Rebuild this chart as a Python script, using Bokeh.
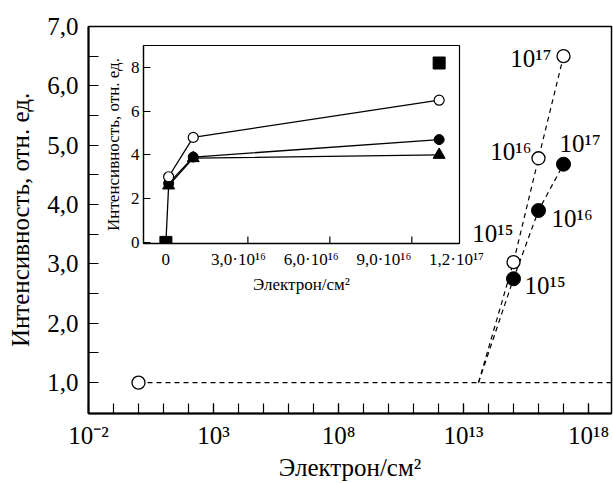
from math import pi
from bokeh.plotting import figure
from bokeh.models import FixedTicker, LinearAxis, Range1d, LinearScale, ColumnDataSource
from bokeh.embed import file_html
from bokeh.resources import INLINE
from bokeh.core.properties import value

FONT = "Liberation Serif"

# ---------------- main panel data ----------------
dose_open = [1e0, 1e15, 1e16, 1e17]
int_open = [1.0, 3.03, 4.78, 6.5]
dose_filled = [1e15, 1e16, 1e17]
int_filled = [2.75, 3.9, 4.68]
onset_dose = 10 ** 13.6
base_level = 1.0

ann_dose = [1e15, 1e16, 1e17, 1e15, 1e16, 1e17]
ann_int = [3.03, 4.78, 6.5, 2.75, 3.9, 4.68]
ann_text = ["10¹⁵", "10¹⁶", "10¹⁷", "10¹⁵", "10¹⁶", "10¹⁷"]

x_ticks = [1e-2, 1e3, 1e8, 1e13, 1e18]
x_tick_labels = ["10⁻²", "10³", "10⁸", "10¹³", "10¹⁸"]
x_minor = [10.0 ** k for k in range(-1, 19)]
y_ticks = [1, 2, 3, 4, 5, 6, 7]
y_tick_labels = ["1,0", "2,0", "3,0", "4,0", "5,0", "6,0", "7,0"]
y_minor = [1.5, 2.5, 3.5, 4.5, 5.5, 6.5]

# ---------------- inset data ----------------
ins_dose = [0, 1e15, 1e16, 1e17]
ins_open = [3.0, 4.8, 6.5]
ins_filled = [2.7, 3.9, 4.7]
ins_tri = [2.6, 3.85, 4.0]
ins_sq_dose = [0, 1e17]
ins_sq = [0.0, 8.2]
ins_y_ticks = [0, 2, 4, 6, 8]
ins_x_ticks = [0, 3e16, 6e16, 9e16, 1.2e17]
ins_x_labels = ["0", "3,0·10¹⁶", "6,0·10¹⁶", "9,0·10¹⁶", "1,2·10¹⁷"]

# ---------------- styles ----------------
ann_align = ["right", "right", "right", "left", "left", "left"]
ann_xoff = [0, -7, -12, 11, 13, -4]
ann_yoff = [-29, -7, 2, 7, 8, -21]

X_END = 10 ** 18.92
Y_MAIN = (0.48, 7.0)
Y_INS = (-0.05, 9.0)

W, H = 613, 483
p = figure(width=W, height=H, x_axis_type="log",
           x_range=(1e-2, X_END), y_range=Y_MAIN,
           output_backend="svg", toolbar_location=None,
           min_border_left=88, min_border_right=2,
           min_border_top=26, min_border_bottom=70)
p.xgrid.visible = False
p.ygrid.visible = False
p.outline_line_color = "black"
p.outline_line_width = 1.5
p.background_fill_color = "white"
p.border_fill_color = "white"

xa = p.xaxis[0]
xa.ticker = FixedTicker(ticks=x_ticks, minor_ticks=x_minor)
xa.major_label_overrides = dict(zip(x_ticks, x_tick_labels))
ya = p.yaxis[0]
ya.ticker = FixedTicker(ticks=y_ticks, minor_ticks=y_minor)
ya.major_label_overrides = dict(zip([float(t) for t in y_ticks], y_tick_labels))
for ax in (xa, ya):
    ax.major_tick_in = 10
    ax.major_tick_out = 0
    ax.minor_tick_in = 10
    ax.minor_tick_out = 0
    ax.axis_line_width = 2
    ax.axis_line_color = "black"
    ax.major_tick_line_color = "black"
    ax.minor_tick_line_color = "black"
    ax.major_tick_line_width = 1.2
    ax.minor_tick_line_width = 1.2
    ax.major_label_text_font = FONT
    ax.major_label_text_font_size = "25px"
    ax.major_label_text_color = "black"
    ax.axis_label_text_font = FONT
    ax.axis_label_text_font_size = "25px"
    ax.axis_label_text_font_style = "normal"
    ax.axis_label_text_color = "black"
xa.axis_label = "Электрон/см²"
xa.major_label_standoff = 8
xa.axis_label_standoff = 2
ya.axis_label = "Интенсивность, отн. ед."
ya.major_label_standoff = 10
ya.axis_label_standoff = 10

dash = "5 4"
p.line([dose_open[0], X_END], [base_level, base_level], line_color="black",
       line_width=1.2, line_dash=dash)
p.line([onset_dose] + dose_open[1:], [base_level] + int_open[1:], line_color="black",
       line_width=1.2, line_dash=dash)
p.line([onset_dose] + dose_filled, [base_level] + int_filled, line_color="black",
       line_width=1.2, line_dash=dash)
p.scatter(dose_open, int_open, marker="circle", size=13, fill_color="white",
          line_color="black", line_width=1.3)
p.scatter(dose_filled, int_filled, marker="circle", size=14, fill_color="black",
          line_color="black")

ann_src = ColumnDataSource(dict(x=ann_dose, y=ann_int, text=ann_text, align=ann_align,
                                xo=ann_xoff, yo=ann_yoff))
p.text(x="x", y="y", text="text", source=ann_src, text_align="align",
       text_baseline="middle", x_offset="xo", y_offset="yo",
       text_font=value(FONT), text_font_size="25px", text_color="black")

# ---------------- inset ----------------
IW, IH = 395, 256
I_LEFT, I_TOP = 100, 40          # inset's top-left corner on the page
LAB_START = -9.23e15
LAB_END = 1.2123e17
ins = figure(width=IW, height=IH, x_range=(-8.2e15, 1.0745e17), y_range=Y_INS,
             output_backend="svg", toolbar_location=None,
             min_border_left=41, min_border_right=36, min_border_top=5, min_border_bottom=50)
ins.border_fill_color = None
ins.border_fill_alpha = 0
ins.background_fill_color = "white"
ins.outline_line_color = "black"
ins.outline_line_width = 1.2
ins.xgrid.visible = False
ins.ygrid.visible = False
ins.margin = (I_TOP - H, 0, H - I_TOP - IH, I_LEFT)

ins.xaxis[0].visible = False

ins.extra_x_ranges = {"lab": Range1d(LAB_START, LAB_END)}
ins.extra_x_scales = {"lab": LinearScale()}
lab_axis = LinearAxis(x_range_name="lab", ticker=FixedTicker(ticks=ins_x_ticks, minor_ticks=[]),
                      axis_line_color="black", axis_line_width=1.3, major_tick_line_color=None,
                      major_tick_in=0, major_tick_out=0, major_label_standoff=6)
lab_axis.major_label_overrides = dict(zip([float(t) for t in ins_x_ticks], ins_x_labels))
lab_axis.major_label_text_font = FONT
lab_axis.major_label_text_font_size = "17px"
lab_axis.major_label_text_color = "black"
lab_axis.axis_label = "Электрон/см²"
lab_axis.axis_label_text_font = FONT
lab_axis.axis_label_text_font_size = "17px"
lab_axis.axis_label_text_font_style = "normal"
lab_axis.axis_label_text_color = "black"
lab_axis.axis_label_standoff = 3
ins.add_layout(lab_axis, "below")

# inward tick marks on the inset dose axis, at the real tick values
ins.scatter(ins_x_ticks, [Y_INS[0]] * len(ins_x_ticks), marker="dash", angle=pi / 2,
            size=14, line_color="black", line_width=1.2)

iya = ins.yaxis[0]
iya.ticker = FixedTicker(ticks=ins_y_ticks, minor_ticks=[])
iya.major_tick_in = 7
iya.major_tick_out = 0
iya.major_label_standoff = 4
iya.axis_line_color = "black"
iya.axis_line_width = 1.3
iya.major_tick_line_color = "black"
iya.major_label_text_font = FONT
iya.major_label_text_font_size = "17px"
iya.major_label_text_color = "black"
iya.axis_label = "Интенсивность, отн. ед."
iya.axis_label_text_font = FONT
iya.axis_label_text_font_size = "17px"
iya.axis_label_text_font_style = "normal"
iya.axis_label_text_color = "black"
iya.axis_label_standoff = 5

lw = 1.3
ins.line(ins_dose[1:], ins_open, line_color="black", line_width=lw)
ins.line(ins_dose[1:], ins_filled, line_color="black", line_width=lw)
ins.line(ins_dose, [ins_sq[0]] + ins_tri, line_color="black", line_width=lw)
ins.scatter(ins_sq_dose, ins_sq, marker="square", size=12, fill_color="black", line_color="black")
ins.scatter(ins_dose[1:], ins_tri, marker="triangle", size=12, fill_color="black", line_color="black")
ins.scatter(ins_dose[1:], ins_filled, marker="circle", size=10, fill_color="black", line_color="black")
ins.scatter(ins_dose[1:], ins_open, marker="circle", size=10, fill_color="white",
            line_color="black", line_width=1.2)

open("out.html", "w").write(file_html([p, ins], INLINE))
